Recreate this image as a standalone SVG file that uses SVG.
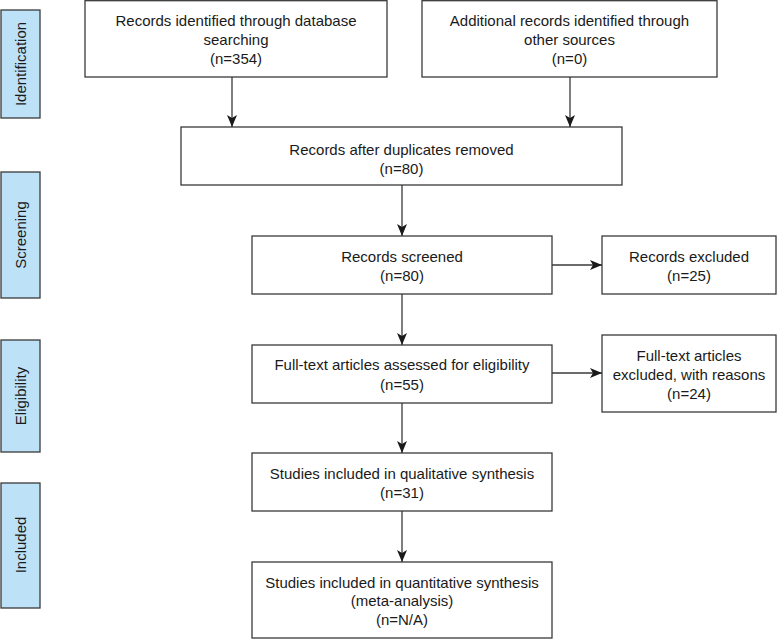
<svg xmlns="http://www.w3.org/2000/svg" width="778" height="639" viewBox="0 0 778 639">
<style>
.box{fill:#fff;stroke:#3a3a3a;stroke-width:1.3}
.side{fill:#bde1f7;stroke:#3a3a3a;stroke-width:1.3}
text{font-family:"Liberation Sans",Arial,sans-serif;font-size:15px;fill:#1a1a1a;text-anchor:middle}
.st{font-size:15px}
.conn line{stroke:#3a3a3a;stroke-width:1.3;fill:none}
</style>
<defs>
<marker id="ah" viewBox="0 0 12 10" refX="12" refY="5" markerWidth="12" markerHeight="10" markerUnits="userSpaceOnUse" orient="auto">
<path d="M0,0 L12,5 L0,10 L3,5 Z" fill="#1a1a1a"/>
</marker>
</defs>
<g id="side-identification"><rect class="side" x="1" y="10" width="39" height="108"/><text class="st" transform="translate(26,64) rotate(-90)">Identification</text></g>
<g id="side-screening"><rect class="side" x="1" y="172" width="39" height="126"/><text class="st" transform="translate(26,235) rotate(-90)">Screening</text></g>
<g id="side-eligibility"><rect class="side" x="1" y="340" width="39" height="112"/><text class="st" transform="translate(26,396) rotate(-90)">Eligibility</text></g>
<g id="side-included"><rect class="side" x="1" y="483" width="39" height="125"/><text class="st" transform="translate(26,545) rotate(-90)">Included</text></g>

<g id="n1"><rect class="box" x="85" y="0.7" width="302" height="76.3"/><text x="236" y="26">Records identified through database</text><text x="236" y="45">searching</text><text x="236" y="64">(n=354)</text></g>
<g id="n2"><rect class="box" x="422" y="0.7" width="295" height="76.3"/><text x="569.5" y="26">Additional records identified through</text><text x="569.5" y="45">other sources</text><text x="569.5" y="64">(n=0)</text></g>
<g id="n3"><rect class="box" x="181" y="127" width="441" height="58"/><text x="401.5" y="155">Records after duplicates removed</text><text x="401.5" y="174">(n=80)</text></g>
<g id="n4"><rect class="box" x="252" y="236" width="300" height="58"/><text x="402" y="262">Records screened</text><text x="402" y="281">(n=80)</text></g>
<g id="n5"><rect class="box" x="602" y="236" width="174" height="58"/><text x="689" y="262">Records excluded</text><text x="689" y="281">(n=25)</text></g>
<g id="n6"><rect class="box" x="252" y="345" width="300" height="58"/><text x="402" y="370">Full-text articles assessed for eligibility</text><text x="402" y="390">(n=55)</text></g>
<g id="n7"><rect class="box" x="602" y="335" width="174" height="77"/><text x="689" y="361">Full-text articles</text><text x="689" y="380">excluded, with reasons</text><text x="689" y="399">(n=24)</text></g>
<g id="n8"><rect class="box" x="252" y="453" width="300" height="58"/><text x="402" y="479">Studies included in qualitative synthesis</text><text x="402" y="498">(n=31)</text></g>
<g id="n9"><rect class="box" x="252" y="562" width="300" height="76"/><text x="402" y="588">Studies included in quantitative synthesis</text><text x="402" y="606">(meta-analysis)</text><text x="402" y="625">(n=N/A)</text></g>

<g id="connectors" class="conn">
<line x1="232" y1="77" x2="232" y2="127" marker-end="url(#ah)"/>
<line x1="570" y1="77" x2="570" y2="127" marker-end="url(#ah)"/>
<line x1="402" y1="185" x2="402" y2="236" marker-end="url(#ah)"/>
<line x1="552" y1="265" x2="602" y2="265" marker-end="url(#ah)"/>
<line x1="402" y1="294" x2="402" y2="345" marker-end="url(#ah)"/>
<line x1="552" y1="373" x2="602" y2="373" marker-end="url(#ah)"/>
<line x1="402" y1="403" x2="402" y2="453" marker-end="url(#ah)"/>
<line x1="402" y1="511" x2="402" y2="562" marker-end="url(#ah)"/>
</g>
</svg>
